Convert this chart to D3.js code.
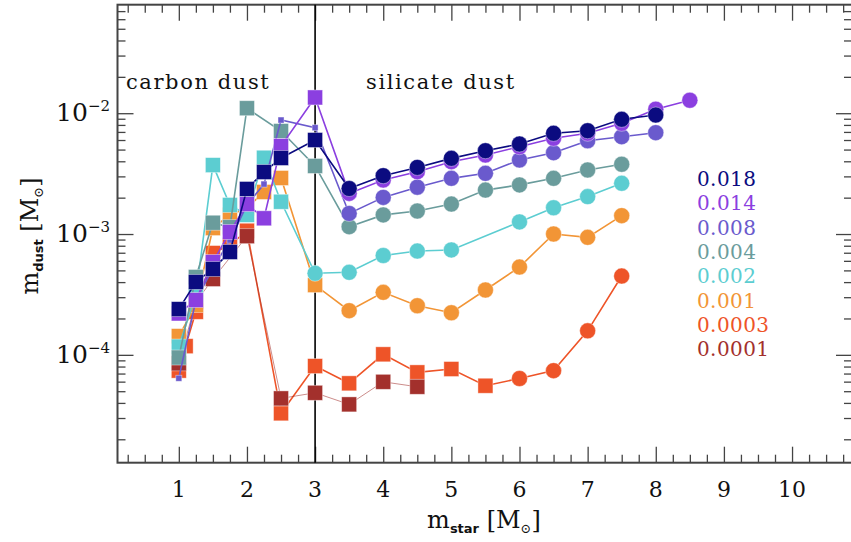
<!DOCTYPE html>
<html><head><meta charset="utf-8">
<script src="https://cdn.jsdelivr.net/npm/d3@7"></script>
<style>body{margin:0;background:#fff}svg{display:block}</style>
</head><body>
<svg id="c" width="851" height="542"></svg>
<script>
// ---------- data ----------
const metallicities = ["0.018","0.014","0.008","0.004","0.002","0.001","0.0003","0.0001"];

const mstar_018 = [1,1.25,1.5,1.75,2,2.25,2.5,3,3.5,4,4.5,5,5.5,6,6.5,7,7.5,8];
const mdust_018 = [2.39e-4,4.01e-4,5.13e-4,7.10e-4,2.36e-3,3.26e-3,4.26e-3,6.0e-3,2.38e-3,3.04e-3,3.56e-3,4.23e-3,4.89e-3,5.56e-3,6.82e-3,7.16e-3,8.90e-3,9.66e-3];

const mstar_014 = [1,1.25,1.5,1.75,2,2.25,2.5,3,3.5,4,4.5,5,5.5,6,6.5,7,7.5,8,8.5];
const mdust_014 = [2.2e-4,2.84e-4,5.86e-4,1.04e-3,1.77e-3,1.35e-3,5.35e-3,1.35e-2,2.17e-3,2.80e-3,3.28e-3,3.97e-3,4.51e-3,5.28e-3,6.20e-3,6.82e-3,8.25e-3,1.08e-2,1.28e-2];

const mstar_008 = [1,1.25,1.5,1.75,2,2.25,2.5,3,3.5,4,4.5,5,5.5,6,6.5,7,7.5,8];
const mdust_008 = [6.4e-5,2.83e-4,5.2e-4,8.9e-4,1.74e-3,2.59e-3,8.78e-3,7.59e-3,1.48e-3,2.01e-3,2.44e-3,2.89e-3,3.18e-3,4.10e-3,4.71e-3,5.92e-3,6.39e-3,6.90e-3];

const mstar_004 = [1,1.25,1.5,1.75,2,2.5,3,3.5,4,4.5,5,5.5,6,6.5,7,7.5];
const mdust_004 = [9.5e-5,4.41e-4,1.24e-3,1.14e-3,1.10e-2,7.12e-3,3.66e-3,1.15e-3,1.44e-3,1.55e-3,1.77e-3,2.31e-3,2.55e-3,2.89e-3,3.39e-3,3.78e-3];

const mstar_002 = [1,1.25,1.5,1.75,2,2.25,2.5,3,3.5,4,4.5,5,6,6.5,7,7.5];
const mdust_002 = [1.17e-4,3.13e-4,3.72e-3,1.74e-3,1.44e-3,4.28e-3,1.85e-3,4.73e-4,4.82e-4,6.64e-4,7.23e-4,7.38e-4,1.26e-3,1.65e-3,2.04e-3,2.63e-3];

const mstar_001 = [1,1.25,1.5,1.75,2,2.25,2.5,3,3.5,4,4.5,5,5.5,6,6.5,7,7.5];
const mdust_001 = [1.43e-4,2.58e-4,1.12e-3,1.44e-3,1.64e-3,2.23e-3,2.91e-3,3.78e-4,2.32e-4,3.29e-4,2.55e-4,2.23e-4,3.44e-4,5.33e-4,1.0e-3,9.39e-4,1.42e-3];

const mstar_0003 = [1,1.1,1.25,1.5,1.75,2,2.5,3,3.5,4,4.5,5,5.5,6,6.5,7,7.5];
const mdust_0003 = [7.4e-5,1.18e-4,2.27e-4,6.96e-4,8.1e-4,1.065e-3,3.28e-5,8.07e-5,5.81e-5,1.01e-4,7.16e-5,7.63e-5,5.55e-5,6.37e-5,7.4e-5,1.58e-4,4.49e-4];

const mstar_0001 = [1,1.25,1.5,2,2.5,3,3.5,4,4.5];
const mdust_0001 = [8.5e-5,2.73e-4,4.24e-4,9.6e-4,4.36e-5,4.85e-5,3.89e-5,5.98e-5,5.44e-5];

// number of leading points drawn as squares (carbon-dust models); the rest are circles
const squareCount = [8,8,8,7,7,8,13,9];

const xTickLabels = ["1","2","3","4","5","6","7","8","9","10"];
const yTickExponents = ["−2","−3","−4"];

// ---------- style ----------
const colors = ["#0b0b80","#8b3fe0","#6a5acd","#6a9c9c","#5ccdd1","#f29536","#ee5428","#a3302c"];
const drawOrder = [6,7,5,4,3,2,1,0];

const mstarArr = [mstar_018,mstar_014,mstar_008,mstar_004,mstar_002,mstar_001,mstar_0003,mstar_0001];
const mdustArr = [mdust_018,mdust_014,mdust_008,mdust_004,mdust_002,mdust_001,mdust_0003,mdust_0001];

const svg = d3.select("#c");
const L = 117.5, R = 852, T = 4.7, B = 462.7;
const x = d3.scaleLinear().domain([0.1, 10.88]).range([L, R]);
const y = d3.scaleLog().domain([1.28e-5, 0.0791]).range([B, T]);

const serif = "'DejaVu Serif', serif";
const sans = "'DejaVu Sans', sans-serif";

svg.append("defs").append("clipPath").attr("id","clip")
  .append("rect").attr("x",L).attr("y",T).attr("width",R-L).attr("height",B-T);

// ---------- axes (ticks via d3 axes) ----------
const xMajor = d3.range(1, 11);
const xMinor = d3.range(0.25, 10.9, 0.25).filter(v => Math.abs(v - Math.round(v)) > 1e-6);
const yMajor = [1e-2, 1e-3, 1e-4];
const yMinor = [];
[1e-5,1e-4,1e-3,1e-2].forEach(d => { for (let k=2;k<=9;k++){ const v=k*d; if (v>=1.28e-5 && v<=0.0791) yMinor.push(v);} });

function styleAxis(g){ g.select(".domain").remove(); g.selectAll("line").attr("stroke","#444").attr("stroke-width",1.3); g.selectAll("text").remove(); }

svg.append("g").attr("transform",`translate(0,${B})`).call(d3.axisTop(x).tickValues(xMajor).tickSize(16)).call(styleAxis);
svg.append("g").attr("transform",`translate(0,${B})`).call(d3.axisTop(x).tickValues(xMinor).tickSize(8)).call(styleAxis);
svg.append("g").attr("transform",`translate(0,${T})`).call(d3.axisBottom(x).tickValues(xMajor).tickSize(16)).call(styleAxis);
svg.append("g").attr("transform",`translate(0,${T})`).call(d3.axisBottom(x).tickValues(xMinor).tickSize(8)).call(styleAxis);
svg.append("g").attr("transform",`translate(${L},0)`).call(d3.axisRight(y).tickValues(yMajor).tickSize(16)).call(styleAxis);
svg.append("g").attr("transform",`translate(${L},0)`).call(d3.axisRight(y).tickValues(yMinor).tickSize(8)).call(styleAxis);
svg.append("g").attr("transform",`translate(${R},0)`).call(d3.axisLeft(y).tickValues(yMajor).tickSize(16)).call(styleAxis);
svg.append("g").attr("transform",`translate(${R},0)`).call(d3.axisLeft(y).tickValues(yMinor).tickSize(8)).call(styleAxis);

svg.append("rect").attr("x",L).attr("y",T).attr("width",R-L).attr("height",B-T)
  .attr("fill","none").attr("stroke","#444").attr("stroke-width",2);

svg.append("g").selectAll("text").data(xMajor).join("text")
  .attr("x", d => x(d)).attr("y", 497).attr("text-anchor","middle")
  .attr("font-family", serif).attr("font-size", 22).attr("fill","#111")
  .text((d,i) => xTickLabels[i]);

const yl = svg.append("g").selectAll("text").data(yMajor).join("text")
  .attr("x", 110).attr("y", d => y(d) + 8).attr("text-anchor","end")
  .attr("font-family", serif).attr("font-size", 25).attr("fill","#111");
yl.append("tspan").text("10");
yl.append("tspan").attr("dy",-10).attr("font-size",15).text((d,i)=>yTickExponents[i]);

svg.append("line").attr("x1",x(3)).attr("x2",x(3)).attr("y1",T).attr("y2",B)
  .attr("stroke","#000").attr("stroke-width",1.6);

svg.append("text").attr("x",126).attr("y",89).attr("font-family",serif).attr("font-size",21)
  .attr("letter-spacing",1.6).attr("fill","#111").text("carbon dust");
svg.append("text").attr("x",366).attr("y",89).attr("font-family",serif).attr("font-size",21)
  .attr("letter-spacing",1.6).attr("fill","#111").text("silicate dust");

// ---------- series ----------
const plot = svg.append("g").attr("clip-path","url(#clip)");
const line = d3.line().x(d => x(d[0])).y(d => y(d[1]));

drawOrder.forEach(si => {
  const pts = mstarArr[si].map((m,i) => [m, mdustArr[si][i]]);
  const g = plot.append("g");
  const isBrown = si === 7;
  g.append("path").datum(pts).attr("d", line).attr("fill","none")
    .attr("stroke", colors[si]).attr("stroke-width", isBrown ? 1 : 1.6)
    .attr("stroke-opacity", isBrown ? 0.55 : 1);
  const small = si === 2;
  pts.forEach((p,i) => {
    const cx = x(p[0]), cy = y(p[1]);
    if (i < squareCount[si]) {
      const s = small ? 6 : 15;
      g.append("rect").attr("x",cx-s/2).attr("y",cy-s/2).attr("width",s).attr("height",s)
        .attr("fill",colors[si]).attr("stroke","#fff").attr("stroke-opacity",0.5).attr("stroke-width",0.8);
    } else {
      g.append("circle").attr("cx",cx).attr("cy",cy).attr("r",8)
        .attr("fill",colors[si]).attr("stroke","#fff").attr("stroke-opacity",0.5).attr("stroke-width",0.8);
    }
  });
});

svg.append("g").selectAll("text").data(metallicities).join("text")
  .attr("x",697).attr("y",(d,i)=>186 + i*24.3)
  .attr("font-family",serif).attr("font-size",20).attr("letter-spacing",0.4)
  .attr("fill",(d,i)=>colors[i]).text(d=>d);

const xt = svg.append("text").attr("x",484).attr("y",528).attr("text-anchor","middle")
  .attr("font-family",serif).attr("font-size",24).attr("fill","#111");
xt.append("tspan").text("m");
xt.append("tspan").attr("dy",5).attr("font-family",sans).attr("font-weight","bold").attr("font-size",13).text("star");
xt.append("tspan").attr("dy",-5).text(" [M");
xt.append("tspan").attr("dy",5).attr("font-size",13).text("⊙");
xt.append("tspan").attr("dy",-5).text("]");

const yt = svg.append("text").attr("transform","translate(38,236) rotate(-90)").attr("text-anchor","middle")
  .attr("font-family",serif).attr("font-size",24).attr("fill","#111");
yt.append("tspan").text("m");
yt.append("tspan").attr("dy",5).attr("font-family",sans).attr("font-weight","bold").attr("font-size",13).text("dust");
yt.append("tspan").attr("dy",-5).text(" [M");
yt.append("tspan").attr("dy",5).attr("font-size",13).text("⊙");
yt.append("tspan").attr("dy",-5).text("]");
</script>
</body></html>
